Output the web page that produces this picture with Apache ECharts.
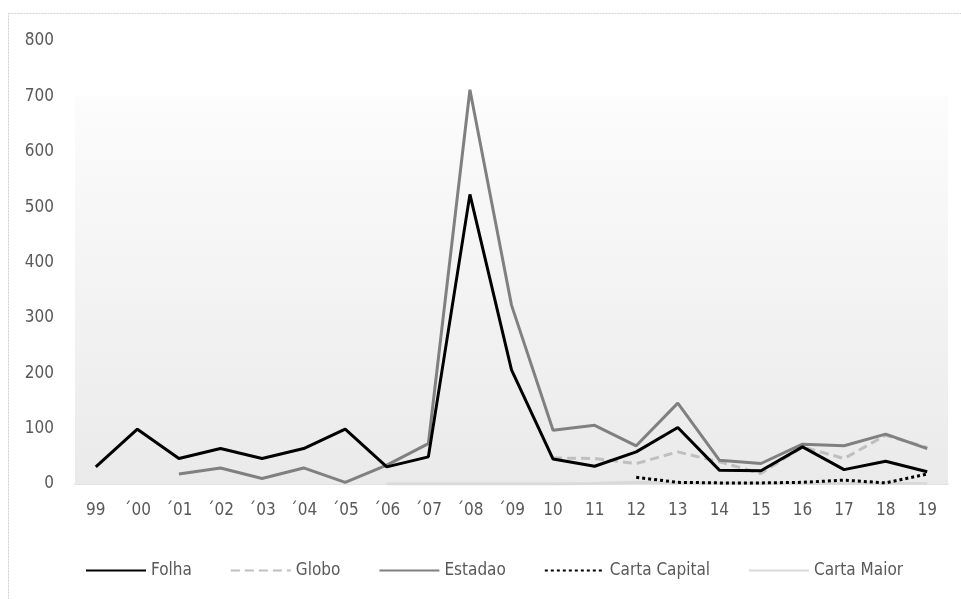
<!DOCTYPE html>
<html>
<head>
<meta charset="utf-8">
<script src="https://cdn.jsdelivr.net/npm/echarts@6/dist/echarts.min.js"></script>
<style>
  html, body { margin: 0; padding: 0; background: #fff; }
  #chart { width: 961px; height: 599px; }
</style>
</head>
<body>
<div id="chart"></div>
<script>
const years = ['99', '´00', '´01', '´02', '´03', '´04', '´05', '´06', '´07', '´08', '´09',
  '10', '11', '12', '13', '14', '15', '16', '17', '18', '19'];

const folha = [31, 99, 46, 64, 46, 64, 99, 31, 49, 523, 206, 45, 32, 58, 102, 25, 24, 67, 26, 41, 22];
const globo = [null, null, null, null, null, null, null, null, null, null, null, 47, 46, 37, 58, 40, 19, 67, 46, 88, 66];
const estadao = [null, null, 18, 29, 10, 29, 3, 34, 73, 712, 323, 97, 106, 69, 146, 43, 37, 72, 69, 90, 64];
const cartaCapital = [null, null, null, null, null, null, null, null, null, null, null, null, null, 12, 3, 2, 2, 3, 7, 2, 18];
const cartaMaior = [null, null, null, null, null, null, null, 0, 0, 0, 0, 0, 1, 3, 2, 1, 1, 1, 1, 1, 1];

const yTicks = [0, 100, 200, 300, 400, 500, 600, 700, 800];

const fontFamily = "'Liberation Sans Narrow', 'DejaVu Sans Condensed', 'Liberation Sans', sans-serif";
const textColor = '#595959';

const chart = echarts.init(document.getElementById('chart'));

const lineSeries = (name, data, color, type, width) => ({
  name,
  type: 'line',
  data,
  showSymbol: false,
  symbol: 'none',
  connectNulls: false,
  lineStyle: { color, width, type, cap: 'butt' },
  itemStyle: { color },
  emphasis: { disabled: true },
});

const option = {
  animation: false,
  textStyle: { fontFamily },
  graphic: [
    {
      type: 'rect',
      shape: { x: 8.5, y: 13.5, width: 1000, height: 700 },
      style: { fill: 'none', stroke: '#cfcfcf', lineWidth: 1, lineDash: [2, 1] },
      silent: true,
      z: -10,
    },
  ],
  grid: { left: 75, right: 13, top: 41, bottom: 115 },
  legend: {
    top: 557,
    left: 80,
    itemWidth: 60,
    itemHeight: 12,
    itemGap: 38,
    itemStyle: { color: 'transparent', borderWidth: 0, opacity: 0 },
    textStyle: { color: textColor, fontSize: 17, fontFamily },
    data: ['Folha', 'Globo', 'Estadao', 'Carta Capital', 'Carta Maior'],
  },
  xAxis: {
    type: 'category',
    data: years,
    boundaryGap: true,
    axisLine: { show: true, lineStyle: { color: '#d9d9d9', width: 1.5 } },
    axisTick: { show: false },
    axisLabel: { color: textColor, fontSize: 17, margin: 18, fontFamily },
  },
  yAxis: {
    type: 'value',
    min: yTicks[0],
    max: yTicks[yTicks.length - 1],
    interval: 100,
    axisLine: { show: false },
    axisTick: { show: false },
    splitLine: { show: false },
    axisLabel: { color: textColor, fontSize: 17, margin: 21, fontFamily },
  },
  series: [
    Object.assign(lineSeries('Folha', folha, '#000000', 'solid', 3), {
      markArea: {
        silent: true,
        itemStyle: {
          color: new echarts.graphic.LinearGradient(0, 0, 0, 1, [
            { offset: 0, color: '#fcfcfc' },
            { offset: 1, color: '#eaeaea' },
          ]),
        },
        data: [[{ yAxis: 700 }, { yAxis: 0 }]],
      },
      z: 5,
    }),
    Object.assign(lineSeries('Globo', globo, '#bfbfbf', [9, 5], 3), { z: 3 }),
    Object.assign(lineSeries('Estadao', estadao, '#808080', 'solid', 3), { z: 4 }),
    Object.assign(lineSeries('Carta Capital', cartaCapital, '#000000', [3, 3], 3), { z: 6 }),
    Object.assign(lineSeries('Carta Maior', cartaMaior, '#d9d9d9', 'solid', 3), { z: 2 }),
  ],
};

chart.setOption(option);
</script>
</body>
</html>
